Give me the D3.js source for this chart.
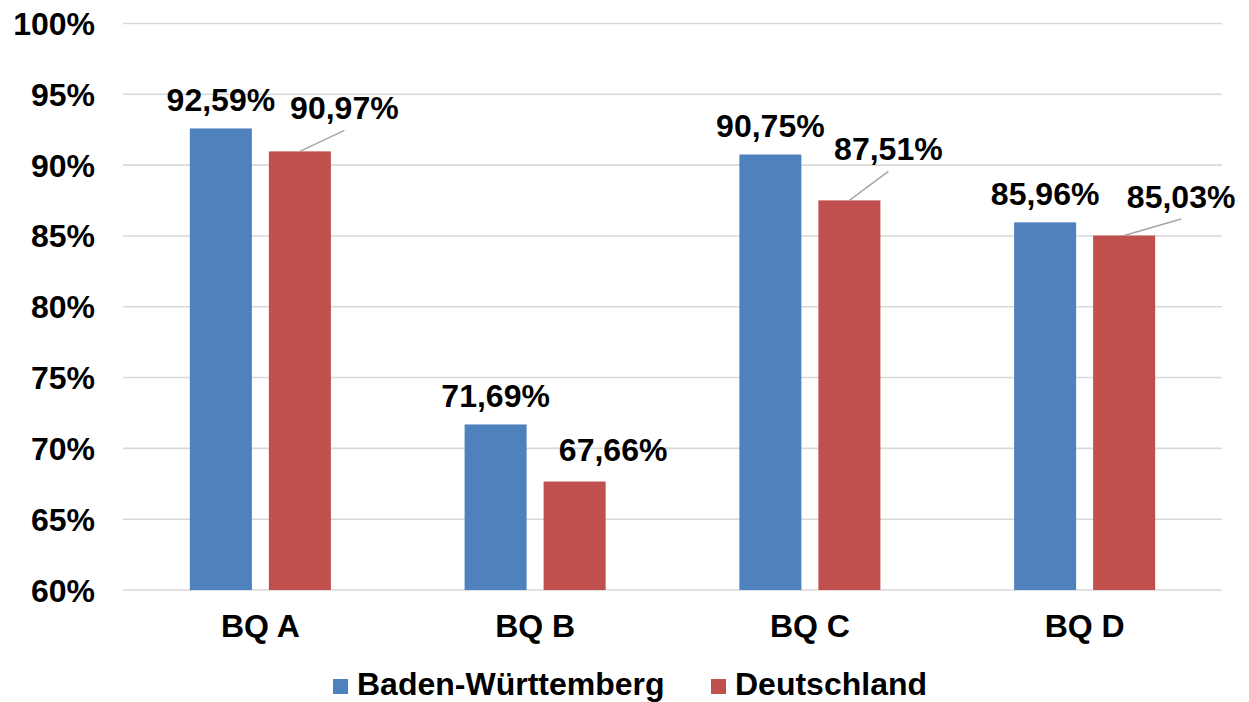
<!DOCTYPE html>
<html>
<head>
<meta charset="utf-8">
<script src="https://cdn.jsdelivr.net/npm/d3@7/dist/d3.min.js"></script>
<style>
html,body{margin:0;padding:0;background:#fff;}
svg{display:block;}
text{font-family:"Liberation Sans",Arial,sans-serif;font-weight:bold;fill:#000;}
</style>
</head>
<body>
<svg id="chart" width="1249" height="702"></svg>
<script>
const categories = ["BQ A", "BQ B", "BQ C", "BQ D"];
const seriesNames = ["Baden-Württemberg", "Deutschland"];
const badenWuerttemberg = [92.59, 71.69, 90.75, 85.96];
const deutschland = [90.97, 67.66, 87.51, 85.03];
const yTicks = [60, 65, 70, 75, 80, 85, 90, 95, 100];
const colors = ["#4F81BD", "#C0504D"];
// label nudges (px) for Deutschland labels: [dx, dy from bar top to baseline, leader line]
const deLabelNudge = [[44.5, -32, true], [38.5, -20.5, false], [39, -40, true], [57, -27.5, true]];

(function () {
const series = [badenWuerttemberg, deutschland];
const svg = d3.select("#chart");
const mLeft = 123, mRight = 1222, mTop = 23.5, mBottom = 590;
const fs = 32;

const x0 = d3.scaleBand().domain(categories).range([mLeft, mRight]).padding(0);
const x1 = d3.scaleBand().domain(seriesNames).range([0, x0.bandwidth()])
  .paddingInner(0.215).paddingOuter(0.846);
const y = d3.scaleLinear().domain([60, 100]).range([mBottom, mTop]);

const fmt = v => v.toFixed(2).replace(".", ",") + "%";

svg.append("g").selectAll("line").data(yTicks).join("line")
  .attr("x1", mLeft).attr("x2", mRight)
  .attr("y1", d => y(d)).attr("y2", d => y(d))
  .attr("stroke", "#D9D9D9").attr("stroke-width", 1.6);

svg.append("g").selectAll("text").data(yTicks).join("text")
  .attr("x", 95).attr("y", d => y(d)).attr("dy", "0.36em")
  .attr("text-anchor", "end").attr("font-size", fs)
  .text(d => d + "%");

const groups = svg.append("g").selectAll("g").data(categories).join("g")
  .attr("transform", c => `translate(${x0(c)},0)`);

groups.selectAll("rect").data((c, i) => seriesNames.map((s, j) => ({s, j, v: series[j][i]})))
  .join("rect")
  .attr("x", d => x1(d.s)).attr("width", x1.bandwidth())
  .attr("y", d => y(d.v)).attr("height", d => y(60) - y(d.v))
  .attr("fill", d => colors[d.j]);

categories.forEach((c, i) => {
  const bx = x0(c) + x1(seriesNames[0]) + x1.bandwidth() / 2;
  const by = y(badenWuerttemberg[i]);
  svg.append("text").attr("x", bx).attr("y", by - 17.5)
    .attr("text-anchor", "middle").attr("font-size", fs)
    .text(fmt(badenWuerttemberg[i]));
  const rx = x0(c) + x1(seriesNames[1]) + x1.bandwidth() / 2;
  const ry = y(deutschland[i]);
  const [dx, dy, leader] = deLabelNudge[i];
  if (leader) {
    svg.append("line").attr("x1", rx).attr("y1", ry)
      .attr("x2", rx + dx).attr("y2", ry + dy + 11)
      .attr("stroke", "#A6A6A6").attr("stroke-width", 1.5);
  }
  svg.append("text").attr("x", rx + dx).attr("y", ry + dy)
    .attr("text-anchor", "middle").attr("font-size", fs)
    .text(fmt(deutschland[i]));
});

svg.append("g").selectAll("text").data(categories).join("text")
  .attr("x", c => x0(c) + x0.bandwidth() / 2).attr("y", 637)
  .attr("text-anchor", "middle").attr("font-size", fs)
  .text(c => c);

const legendItems = [{x: 333, tx: 357}, {x: 711, tx: 735}];
seriesNames.forEach((s, j) => {
  svg.append("rect").attr("x", legendItems[j].x).attr("y", 679)
    .attr("width", 15).attr("height", 15).attr("fill", colors[j]);
  svg.append("text").attr("x", legendItems[j].tx).attr("y", 695)
    .attr("font-size", fs).text(s);
});
})();
</script>
</body>
</html>
